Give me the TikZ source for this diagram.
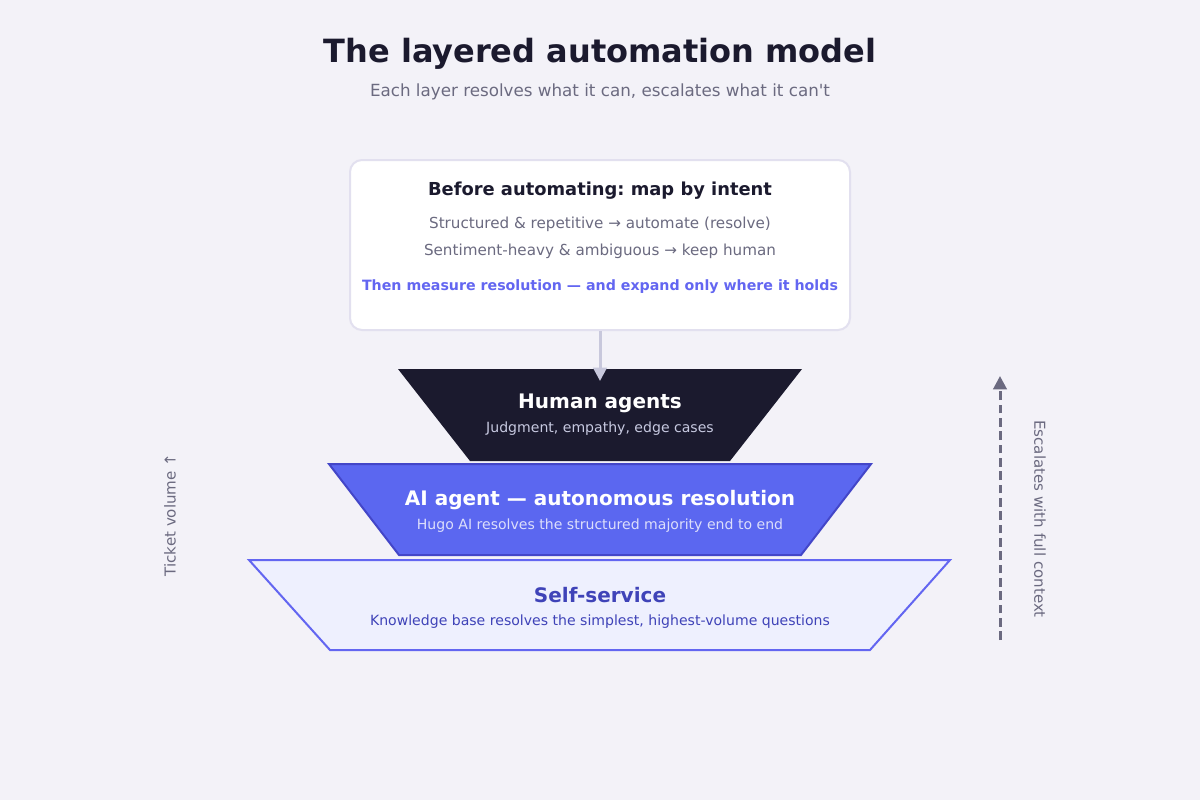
\documentclass[tikz,border=0pt]{standalone}
\usepackage{fontspec}
\setmainfont{DejaVu Sans}
\usepackage{tikz}
\usetikzlibrary{arrows.meta, positioning}
\frenchspacing

\definecolor{bgcol}{HTML}{F3F2F8}
\definecolor{ink}{HTML}{1B1A2E}
\definecolor{muted}{HTML}{6B6A80}
\definecolor{cardedge}{HTML}{E2E0EF}
\definecolor{accent}{HTML}{6366F1}
\definecolor{linkgray}{HTML}{C8C8DC}
\definecolor{aifill}{HTML}{5B67F0}
\definecolor{aiedge}{HTML}{4346C8}
\definecolor{selffill}{HTML}{EEF0FE}
\definecolor{selfink}{HTML}{3F43B8}
\definecolor{humansub}{HTML}{C7C9E0}
\definecolor{aisub}{HTML}{DCDEFB}

\newcommand{\fs}[1]{\fontsize{#1}{#1}\selectfont}

\begin{document}
\frenchspacing
\begin{tikzpicture}[
  x=0.75pt, y=-0.75pt,
  title/.style = {font=\bfseries\fs{24}, text=ink},
  subtitle/.style = {font=\fs{12.55}, text=muted},
  card/.style = {rectangle, draw=cardedge, line width=1.5pt, fill=white,
                 rounded corners=9pt, minimum width=375pt, minimum height=127.5pt},
  cardhead/.style = {font=\bfseries\fs{13.4}, text=ink},
  cardtext/.style = {font=\fs{11.37}, text=muted},
  cardnote/.style = {font=\bfseries\fs{10.65}, text=accent},
  layerhead/.style = {font=\bfseries\fs{15}},
  layersub/.style = {font=\fs{10.55}},
  sidelabel/.style = {font=\fs{11.3}, text=muted},
  arr/.style = {-{Triangle[length=10pt, width=10pt]}, line width=2.25pt},
]

% background
\fill[bgcol] (0,0) rectangle (1200,800);

% heading
\node[title] (heading) at (600,54) {The layered automation model};
\node[subtitle] (subhead) at (600,92) {Each layer resolves what it can, escalates what it can\textquotesingle t};

% intent card
\node[card] (intent) at (600,245) {};
\node[cardhead] (intenthead) at (600,191) {Before automating: map by intent};
\node[cardtext] (ruleA) at (600,224) {Structured \& repetitive → automate (resolve)};
\node[cardtext] (ruleB) at (600,251) {Sentiment-heavy \& ambiguous → keep human};
\node[cardnote] (ruleC) at (600,287) {Then measure resolution — and expand only where it holds};

% layers
\fill[ink] (398,369) -- (802,369) -- (730,461) -- (470,461) -- cycle;
\coordinate (humantop) at (600,381);
\node[layerhead, text=white] (human) at (600,403) {Human agents};
\node[layersub, text=humansub] (humansubline) at (600,429) {Judgment, empathy, edge cases};

\filldraw[fill=aifill, draw=aiedge, line width=1.5pt]
  (329,464) -- (871,464) -- (801,555) -- (399,555) -- cycle;
\node[layerhead, text=white] (aiagent) at (600,500) {AI agent — autonomous resolution};
\node[layersub, text=aisub] (aisubline) at (600,526) {Hugo AI resolves the structured majority end to end};

\filldraw[fill=selffill, draw=accent, line width=1.5pt]
  (249,560) -- (950,560) -- (870,650) -- (330,650) -- cycle;
\node[layerhead, text=selfink] (selfserve) at (600,595) {Self-service};
\node[layersub, text=selfink] (selfsubline) at (600,622) {Knowledge base resolves the simplest, highest-volume questions};

% side notes
\node[sidelabel, rotate=90] (volume) at (170,515) {Ticket volume ↑};
\coordinate (escbottom) at (1000,640);
\coordinate (esctop) at (1000,376);
\node[sidelabel, rotate=-90] (escalate) at (1040,519) {Escalates with full context};

\draw[arr, draw=linkgray] (intent.south) -- (humantop);
\draw[arr, draw=muted, dash pattern=on 6.5pt off 3.5pt] (escbottom) -- (esctop);

\end{tikzpicture}
\end{document}
